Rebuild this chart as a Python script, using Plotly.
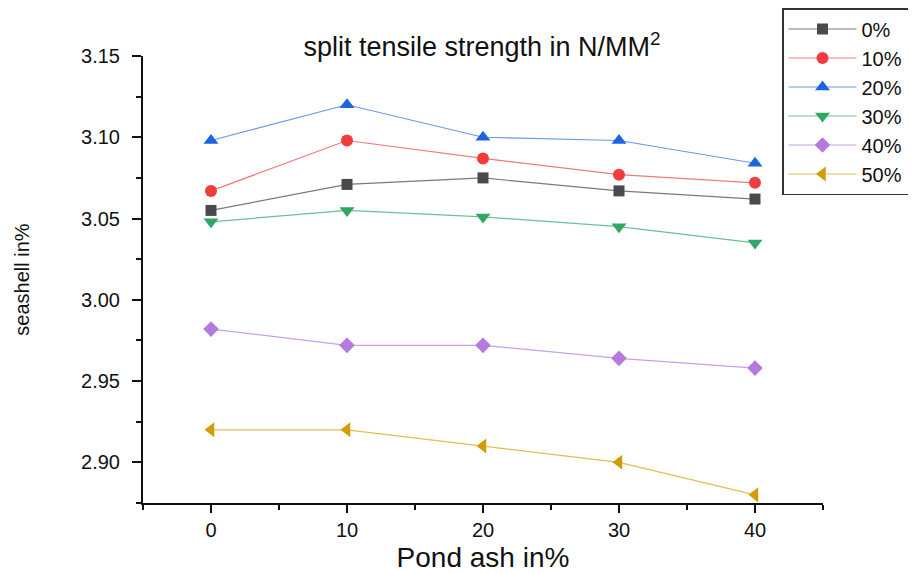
import plotly.graph_objects as go

x_vals = [0, 10, 20, 30, 40]
series_names = ["0%", "10%", "20%", "30%", "40%", "50%"]
s0 = [3.055, 3.071, 3.075, 3.067, 3.062]
s10 = [3.067, 3.098, 3.087, 3.077, 3.072]
s20 = [3.098, 3.120, 3.100, 3.098, 3.084]
s30 = [3.048, 3.055, 3.051, 3.045, 3.035]
s40 = [2.982, 2.972, 2.972, 2.964, 2.958]
s50 = [2.920, 2.920, 2.910, 2.900, 2.880]
y_ticks = [2.90, 2.95, 3.00, 3.05, 3.10, 3.15]

colors = ["#4a4a4a", "#f03c3c", "#1a66e0", "#2ea862", "#b57bdc", "#d29c08"]
lines = ["#7a7a7a", "#f07a7a", "#6a9ae0", "#6cc092", "#c7a0e6", "#e0c050"]
symbols = ["square", "circle", "triangle-up", "triangle-down", "diamond", "triangle-left"]
sizes = [11, 12, 13, 13, 12, 13]
data = [s0, s10, s20, s30, s40, s50]

fig = go.Figure()
for name, ys, c, lc, sym, sz in zip(series_names, data, colors, lines, symbols, sizes):
    fig.add_trace(go.Scatter(
        x=x_vals, y=ys, name=name, mode="lines+markers",
        line=dict(color=lc, width=1.2),
        marker=dict(symbol=sym, size=sz, color=c, line=dict(width=0)),
    ))

fig.update_layout(
    width=916, height=573,
    margin=dict(l=135, r=101, t=48, b=78, autoexpand=False),
    plot_bgcolor="white", paper_bgcolor="white",
    font=dict(family="Liberation Sans, Arial, sans-serif", color="#111"),
    title=dict(text="split tensile strength in N/MM<sup>2</sup>", x=474 / 916, xanchor="center",
               xref="container", yref="container",
               y=1 - 39 / 573, yanchor="middle", font=dict(size=27, color="#111")),
    legend=dict(xref="container", yref="container", x=774 / 916, y=1.0,
                xanchor="left", yanchor="top", bgcolor="white", bordercolor="#333",
                borderwidth=1.5, font=dict(size=20), tracegroupgap=0, itemwidth=68),
    showlegend=True,
)
fig.update_xaxes(
    range=[-5, 45], tickvals=x_vals, ticks="outside", ticklen=8, tickwidth=1.5,
    showline=True, linecolor="#111", linewidth=2, showgrid=False, zeroline=False,
    tickfont=dict(size=20), title=dict(text="Pond ash in%", font=dict(size=28), standoff=7),
    minor=dict(tickvals=[-5, 5, 15, 25, 35, 45], ticks="outside", ticklen=5, tickwidth=1.5, tickcolor="#111"),
    tickcolor="#111",
)
fig.update_yaxes(
    range=[2.875, 3.15], tickvals=y_ticks, ticktext=[f"{v:.2f}" for v in y_ticks],
    ticks="outside", ticklen=9, tickwidth=1.5, tickcolor="#111", ticklabelstandoff=8,
    showline=True, linecolor="#111", linewidth=2, showgrid=False, zeroline=False,
    tickfont=dict(size=20), title=dict(text="seashell in%", font=dict(size=20), standoff=46),
    minor=dict(tickvals=[2.875, 2.925, 2.975, 3.025, 3.075, 3.125], ticks="outside", ticklen=5,
               tickwidth=1.5, tickcolor="#111"),
)

fig.write_html("out.html")
